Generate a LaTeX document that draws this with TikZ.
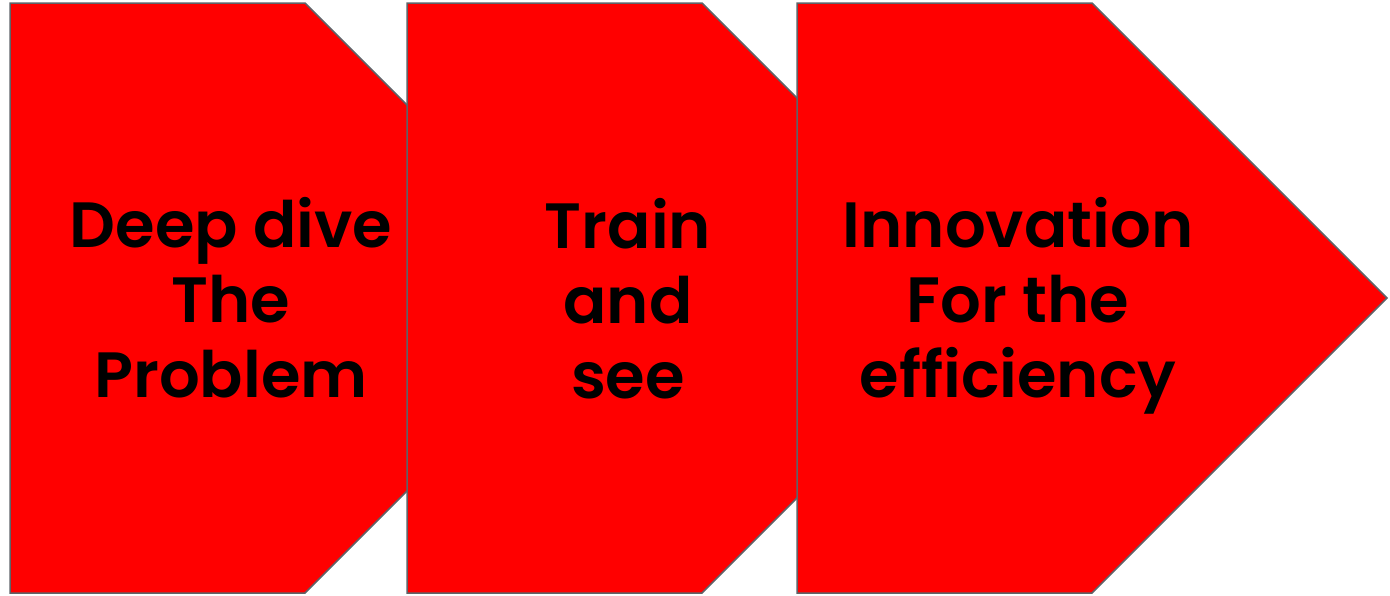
\documentclass[tikz,border=0pt]{standalone}
\usepackage{fontspec}
\setmainfont{Poppins}[BoldFont={Poppins SemiBold}]
\definecolor{edgegray}{RGB}{95,99,104}
\tikzset{
  stepblock/.style={draw=edgegray, fill=red, line width=1.5pt, line join=miter},
  steptext/.style={align=center, font=\fontsize{64}{75}\selectfont\bfseries, text=black}
}
\begin{document}
\begin{tikzpicture}[x=1pt,y=-1pt]
  \useasboundingbox (0,0) rectangle (1390,595);

  % Step blocks
  \draw[stepblock] (10,3) -- (305,3) -- (600,298) -- (305,593) -- (10,593) -- cycle;
  \draw[stepblock] (407,3) -- (702,3) -- (997,298) -- (702,593) -- (407,593) -- cycle;
  \draw[stepblock] (797,3) -- (1092,3) -- (1387,298) -- (1092,593) -- (797,593) -- cycle;

  % Step labels
  \node[steptext] (deep) at (231,298) {Deep dive\\The\\Problem};
  \node[steptext] (train) at (628,299) {Train\\and\\see};
  \node[steptext] (innov) at (1018,306) {Innovation\\For the\\efficiency};
\end{tikzpicture}
\end{document}
